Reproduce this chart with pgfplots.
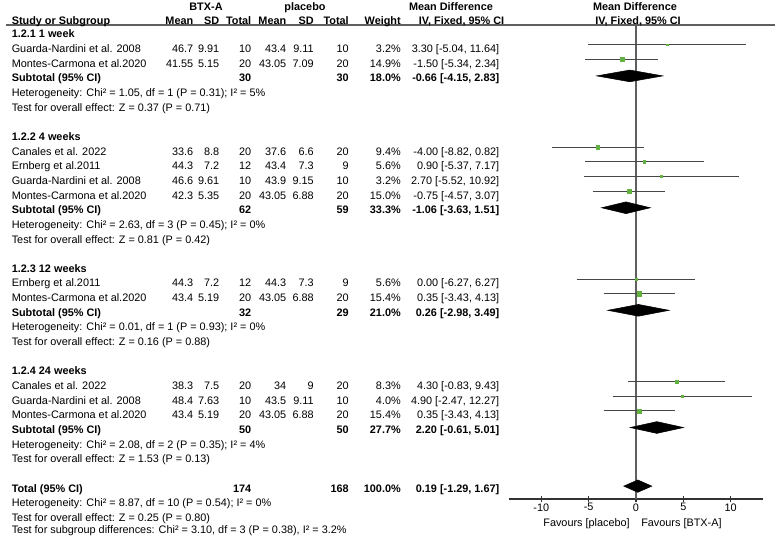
\documentclass[border=0pt]{standalone}
\usepackage{pgfplots}
\usepackage{fontspec}
\setmainfont{Liberation Sans}
\pgfplotsset{compat=1.18}

\definecolor{sqgreen}{RGB}{98,178,66}
\definecolor{ciline}{RGB}{70,70,70}
\definecolor{refline}{RGB}{95,95,95}

\def\yb#1{34+14.65*(#1)+3.9}
\newcommand\cols[9]{%
  \node[anchor=base west] at (11.5,{\yb{#1}}) {#2};
  \node[anchor=base east] at (193.5,{\yb{#1}}) {#3};
  \node[anchor=base east] at (219.5,{\yb{#1}}) {#4};
  \node[anchor=base east] at (251.5,{\yb{#1}}) {#5};
  \node[anchor=base east] at (286.5,{\yb{#1}}) {#6};
  \node[anchor=base east] at (314,{\yb{#1}}) {#7};
  \node[anchor=base east] at (349,{\yb{#1}}) {#8};
  \node[anchor=base east] at (401,{\yb{#1}}) {#9};}
\newcommand\ci[2]{\node[anchor=base east] at (499.5,{\yb{#1}}) {#2};}
\newcommand\txt[2]{\node[anchor=base west] at (11.5,{\yb{#1}}) {#2};}
\newcommand\fnt{\fontsize{8.15}{9.8}\selectfont}

\begin{document}
\begin{tikzpicture}[font=\fnt,inner sep=0pt]
\useasboundingbox (0,0) rectangle (581.25pt,-402.75pt);

\begin{axis}[
  at={(381.375pt,-374.25pt)}, anchor=south west,
  scale only axis, width=190.9pt, height=355.5pt,
  xmin=-13.46, xmax=13.41, ymin=-0.614, ymax=31.74, y dir=reverse,
  axis x line*=bottom, axis y line=none,
  x axis line style={draw=black!80, line width=0.8pt},
  xtick={-10,-5,0,5,10}, xticklabels={-10,-5,0,5,10},
  tick align=center, major tick length=5.2pt,
  xtick style={draw=black!80, line width=0.8pt},
  xticklabel style={font=\fnt, yshift=-0.5pt},
  clip=false,
]
\addplot[refline, line width=0.8pt] coordinates {(0,-0.614) (0,31.74)};
% confidence intervals
\addplot[ciline, line width=0.8pt, unbounded coords=jump] table {
x y
-5.04 0.73
11.64 0.73
nan nan
-5.34 1.73
2.34 1.73
nan nan
-8.82 7.73
0.82 7.73
nan nan
-5.37 8.73
7.17 8.73
nan nan
-5.52 9.73
10.92 9.73
nan nan
-4.57 10.73
3.07 10.73
nan nan
-6.27 16.73
6.27 16.73
nan nan
-3.43 17.73
4.13 17.73
nan nan
-0.83 23.73
9.43 23.73
nan nan
-2.47 24.73
12.27 24.73
nan nan
-3.43 25.73
4.13 25.73
};
% weight squares
\addplot[only marks, mark=square*, color=sqgreen, mark size=0.70pt] coordinates {(3.30,0.73)};
\addplot[only marks, mark=square*, color=sqgreen, mark size=1.50pt] coordinates {(-1.50,1.73)};
\addplot[only marks, mark=square*, color=sqgreen, mark size=1.20pt] coordinates {(-4.00,7.73)};
\addplot[only marks, mark=square*, color=sqgreen, mark size=0.92pt] coordinates {(0.90,8.73)};
\addplot[only marks, mark=square*, color=sqgreen, mark size=0.70pt] coordinates {(2.70,9.73)};
\addplot[only marks, mark=square*, color=sqgreen, mark size=1.51pt] coordinates {(-0.75,10.73)};
\addplot[only marks, mark=square*, color=sqgreen, mark size=0.92pt] coordinates {(0.00,16.73)};
\addplot[only marks, mark=square*, color=sqgreen, mark size=1.53pt] coordinates {(0.35,17.73)};
\addplot[only marks, mark=square*, color=sqgreen, mark size=1.12pt] coordinates {(4.30,23.73)};
\addplot[only marks, mark=square*, color=sqgreen, mark size=0.78pt] coordinates {(4.90,24.73)};
\addplot[only marks, mark=square*, color=sqgreen, mark size=1.53pt] coordinates {(0.35,25.73)};
% pooled diamonds
\addplot[fill=black, draw=black] coordinates {(-4.15,2.86) (-0.66,2.46) (2.83,2.86) (-0.66,3.26)} -- cycle;
\addplot[fill=black, draw=black] coordinates {(-3.63,11.86) (-1.06,11.46) (1.51,11.86) (-1.06,12.26)} -- cycle;
\addplot[fill=black, draw=black] coordinates {(-2.98,18.86) (0.26,18.46) (3.49,18.86) (0.26,19.26)} -- cycle;
\addplot[fill=black, draw=black] coordinates {(-0.61,26.86) (2.20,26.46) (5.01,26.86) (2.20,27.26)} -- cycle;
\addplot[fill=black, draw=black] coordinates {(-1.29,30.86) (0.19,30.44) (1.67,30.86) (0.19,31.28)} -- cycle;
\end{axis}

\begin{scope}[x=0.75pt,y=-0.75pt]
\draw[refline, line width=0.8pt] (6,25) -- (775,25);

% header
\begin{scope}[font=\fnt\bfseries]
\node[anchor=base] at (206,{\yb{-1.84}}) {BTX-A};
\node[anchor=base] at (305,{\yb{-1.84}}) {placebo};
\node[anchor=base] at (451,{\yb{-1.84}}) {Mean Difference};
\node[anchor=base] at (635,{\yb{-1.84}}) {Mean Difference};
\cols{-0.89}{Study or Subgroup}{Mean}{SD}{Total}{Mean}{SD}{Total}{Weight}
\node[anchor=base] at (461.5,{\yb{-0.89}}) {IV, Fixed, 95\% CI};
\node[anchor=base] at (638,{\yb{-0.89}}) {IV, Fixed, 95\% CI};
\end{scope}

% 1.2.1
\txt{0}{\bfseries 1.2.1 1 week}
\cols{1}{Guarda-Nardini et al. 2008}{46.7}{9.91}{10}{43.4}{9.11}{10}{3.2\%}
\ci{1}{3.30 [-5.04, 11.64]}
\cols{2}{Montes-Carmona et al.2020}{41.55}{5.15}{20}{43.05}{7.09}{20}{14.9\%}
\ci{2}{-1.50 [-5.34, 2.34]}
\begin{scope}[font=\fnt\bfseries]
\cols{3}{Subtotal (95\% CI)}{}{}{30}{}{}{30}{18.0\%}
\ci{3}{-0.66 [-4.15, 2.83]}
\end{scope}
\txt{4}{Heterogeneity: Chi² = 1.05, df = 1 (P = 0.31); I² = 5\%}
\txt{5}{Test for overall effect: Z = 0.37 (P = 0.71)}

% 1.2.2
\txt{7}{\bfseries 1.2.2 4 weeks}
\cols{8}{Canales et al. 2022}{33.6}{8.8}{20}{37.6}{6.6}{20}{9.4\%}
\ci{8}{-4.00 [-8.82, 0.82]}
\cols{9}{Ernberg et al.2011}{44.3}{7.2}{12}{43.4}{7.3}{9}{5.6\%}
\ci{9}{0.90 [-5.37, 7.17]}
\cols{10}{Guarda-Nardini et al. 2008}{46.6}{9.61}{10}{43.9}{9.15}{10}{3.2\%}
\ci{10}{2.70 [-5.52, 10.92]}
\cols{11}{Montes-Carmona et al.2020}{42.3}{5.35}{20}{43.05}{6.88}{20}{15.0\%}
\ci{11}{-0.75 [-4.57, 3.07]}
\begin{scope}[font=\fnt\bfseries]
\cols{12}{Subtotal (95\% CI)}{}{}{62}{}{}{59}{33.3\%}
\ci{12}{-1.06 [-3.63, 1.51]}
\end{scope}
\txt{13}{Heterogeneity: Chi² = 2.63, df = 3 (P = 0.45); I² = 0\%}
\txt{14}{Test for overall effect: Z = 0.81 (P = 0.42)}

% 1.2.3
\txt{16}{\bfseries 1.2.3 12 weeks}
\cols{17}{Ernberg et al.2011}{44.3}{7.2}{12}{44.3}{7.3}{9}{5.6\%}
\ci{17}{0.00 [-6.27, 6.27]}
\cols{18}{Montes-Carmona et al.2020}{43.4}{5.19}{20}{43.05}{6.88}{20}{15.4\%}
\ci{18}{0.35 [-3.43, 4.13]}
\begin{scope}[font=\fnt\bfseries]
\cols{19}{Subtotal (95\% CI)}{}{}{32}{}{}{29}{21.0\%}
\ci{19}{0.26 [-2.98, 3.49]}
\end{scope}
\txt{20}{Heterogeneity: Chi² = 0.01, df = 1 (P = 0.93); I² = 0\%}
\txt{21}{Test for overall effect: Z = 0.16 (P = 0.88)}

% 1.2.4
\txt{23}{\bfseries 1.2.4 24 weeks}
\cols{24}{Canales et al. 2022}{38.3}{7.5}{20}{34}{9}{20}{8.3\%}
\ci{24}{4.30 [-0.83, 9.43]}
\cols{25}{Guarda-Nardini et al. 2008}{48.4}{7.63}{10}{43.5}{9.11}{10}{4.0\%}
\ci{25}{4.90 [-2.47, 12.27]}
\cols{26}{Montes-Carmona et al.2020}{43.4}{5.19}{20}{43.05}{6.88}{20}{15.4\%}
\ci{26}{0.35 [-3.43, 4.13]}
\begin{scope}[font=\fnt\bfseries]
\cols{27}{Subtotal (95\% CI)}{}{}{50}{}{}{50}{27.7\%}
\ci{27}{2.20 [-0.61, 5.01]}
\end{scope}
\txt{28}{Heterogeneity: Chi² = 2.08, df = 2 (P = 0.35); I² = 4\%}
\txt{29}{Test for overall effect: Z = 1.53 (P = 0.13)}

% total
\begin{scope}[font=\fnt\bfseries]
\cols{31}{Total (95\% CI)}{}{}{174}{}{}{168}{100.0\%}
\ci{31}{0.19 [-1.29, 1.67]}
\end{scope}
\txt{32}{Heterogeneity: Chi² = 8.87, df = 10 (P = 0.54); I² = 0\%}
\txt{33}{Test for overall effect: Z = 0.25 (P = 0.80)}
\txt{33.86}{Test for subgroup differences: Chi² = 3.10, df = 3 (P = 0.38), I² = 3.2\%}

% axis captions
\node[anchor=base east] at (630,526.5) {Favours [placebo]};
\node[anchor=base west] at (641,526.5) {Favours [BTX-A]};
\end{scope}
\end{tikzpicture}
\end{document}
